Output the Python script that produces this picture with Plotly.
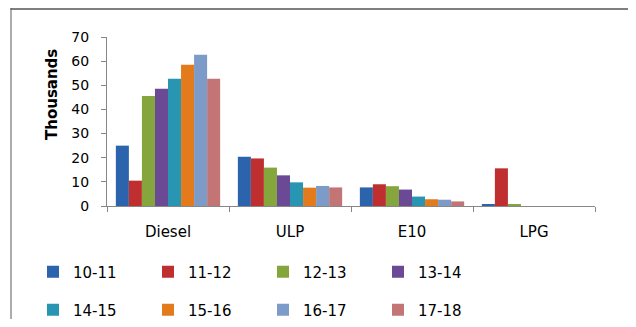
import plotly.graph_objects as go

categories = ["Diesel", "ULP", "E10", "LPG"]
years = ["10-11", "11-12", "12-13", "13-14", "14-15", "15-16", "16-17", "17-18"]
values = {
    "10-11": [25.0, 20.4, 7.7, 0.7],
    "11-12": [10.5, 19.7, 9.0, 15.6],
    "12-13": [45.6, 15.9, 8.2, 0.8],
    "13-14": [48.6, 12.7, 6.8, 0],
    "14-15": [52.7, 9.8, 3.9, 0],
    "15-16": [58.5, 7.6, 2.8, 0],
    "16-17": [62.6, 8.3, 2.6, 0],
    "17-18": [52.7, 7.7, 1.9, 0],
}
colors = ["#2B63AD", "#BF2F2F", "#84A63D", "#6B4995", "#2896B2", "#E37B1C", "#7C9BC8", "#C37575"]

FONT = "DejaVu Sans"
# The page body keeps its default 8px margin, so the figure is sized to fit
# the 636x327 window exactly and laid out in window coordinates minus 8px.
OFF = 8
W, H = 636 - 2 * OFF, 327 - 2 * OFF
# plot area in window pixels: x 107..595, y 37..206
L, R, T, B = 107 - OFF, W - (595 - OFF), 37 - OFF, H - (206 - OFF)
pw, ph = W - L - R, H - T - B

def px_x(xw):
    return (xw - OFF - L) / pw

def px_y(yw):
    return (H - B - (yw - OFF)) / ph

fig = go.Figure()
for i, yr in enumerate(years):
    fig.add_trace(go.Bar(
        x=categories, y=values[yr], name=yr,
        marker=dict(color=colors[i], line=dict(width=0)),
        legend="legend" if i < 4 else "legend2",
    ))

legend_common = dict(
    orientation="h", xanchor="left", yanchor="middle",
    entrywidth=70, entrywidthmode="pixels",
    font=dict(size=15, family=FONT), bgcolor="rgba(0,0,0,0)",
)

fig.update_layout(
    width=W, height=H,
    margin=dict(l=L, r=R, t=T, b=B, autoexpand=False),
    paper_bgcolor="white", plot_bgcolor="white",
    barmode="group", bargap=0.145, bargroupgap=0,
    font=dict(family=FONT, color="#000000"),
    xaxis=dict(
        showline=True, linecolor="#878787", linewidth=1,
        ticks="outside", tickson="boundaries", ticklen=5, tickcolor="#878787",
        tickfont=dict(size=15, family=FONT), ticklabelstandoff=12,
        showgrid=False, automargin=False,
    ),
    yaxis=dict(
        range=[0, 70], dtick=10, tick0=0,
        showline=True, linecolor="#878787", linewidth=1,
        ticks="outside", ticklen=5, tickcolor="#878787",
        tickfont=dict(size=14, family=FONT), ticklabelstandoff=9,
        showgrid=False, zeroline=False, automargin=False,
    ),
    legend=dict(legend_common, x=px_x(33), y=px_y(272)),
    legend2=dict(legend_common, x=px_x(33), y=px_y(310)),
    shapes=[
        dict(type="line", xref="paper", yref="paper",
             x0=px_x(10.5), x1=px_x(640), y0=px_y(9), y1=px_y(9),
             line=dict(color="#7F7F7F", width=2)),
        dict(type="line", xref="paper", yref="paper",
             x0=px_x(11), x1=px_x(11), y0=px_y(8), y1=px_y(330),
             line=dict(color="#5A5A5A", width=1)),
    ],
    annotations=[dict(
        text="<b>Thousands</b>", textangle=-90, xref="paper", yref="paper",
        x=px_x(52), y=px_y(95), xanchor="center", yanchor="middle", showarrow=False,
        font=dict(size=15, family=FONT, color="#000000"),
    )],
)

fig.write_html("out.html")
